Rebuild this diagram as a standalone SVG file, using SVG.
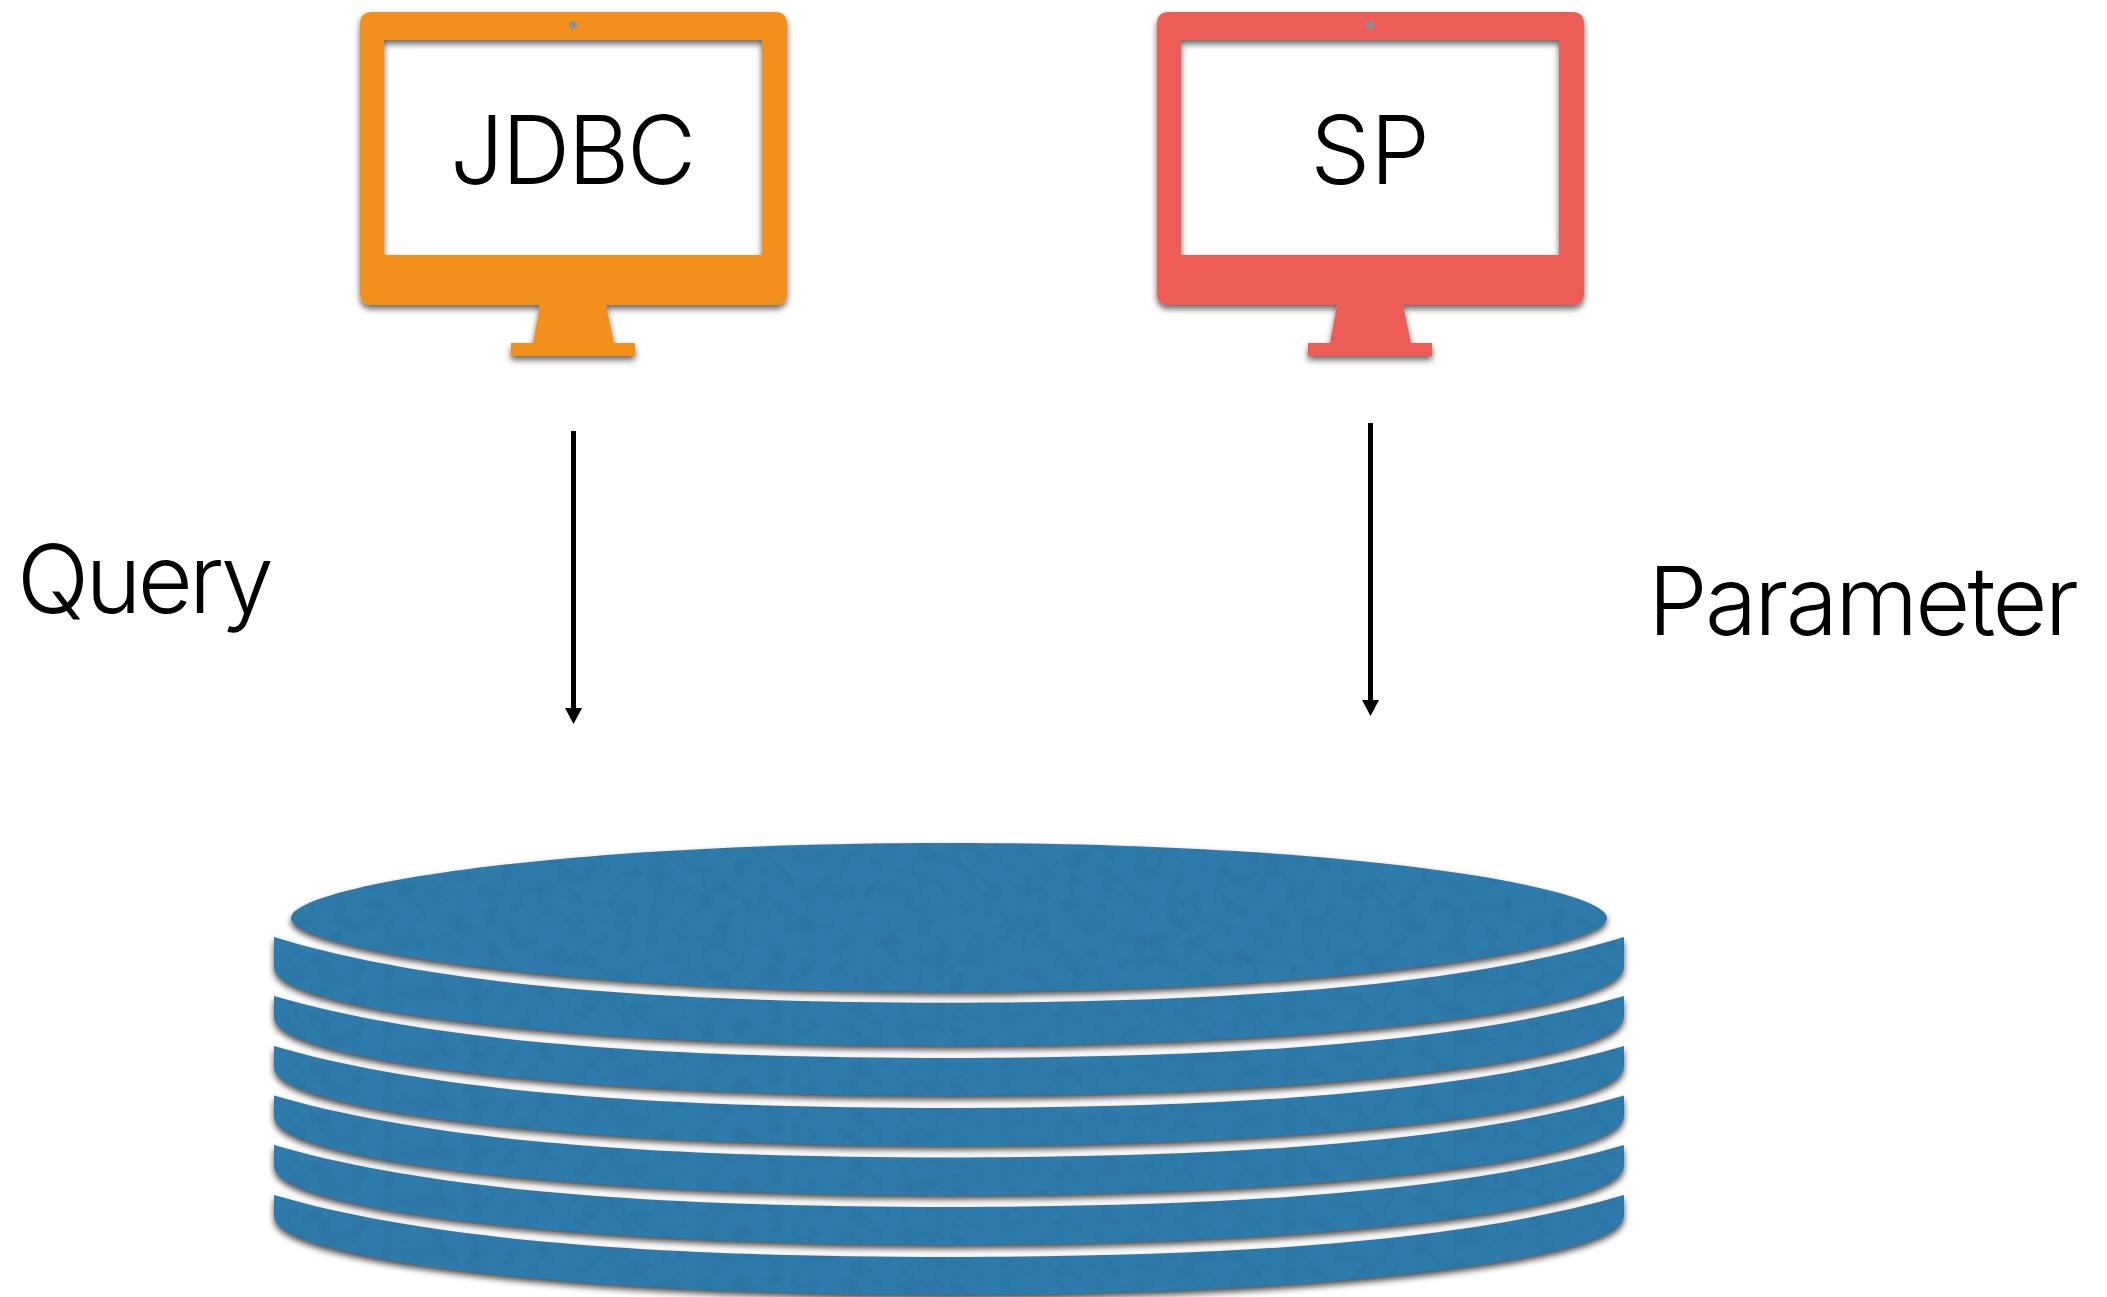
<svg xmlns="http://www.w3.org/2000/svg" width="2107" height="1297" viewBox="0 0 2107 1297">
<style>
text{font-family:"Inter","Roboto","Liberation Sans",sans-serif;font-weight:300;fill:#000}
.big{font-size:95px}
.stack{fill:#2e7cae;filter:url(#sh)}
.line{stroke:#000;stroke-width:5;fill:none;marker-end:url(#arrow)}
</style>
<defs>
<filter id="sh" x="-5%" y="-20%" width="110%" height="140%" color-interpolation-filters="sRGB">
<feGaussianBlur in="SourceAlpha" stdDeviation="3"/><feOffset dy="4"/>
<feColorMatrix type="matrix" values="0 0 0 0 0 0 0 0 0 0 0 0 0 0 0 0 0 0 .7 0" result="s"/>
<feTurbulence type="fractalNoise" baseFrequency=".06" numOctaves="4" seed="3"/>
<feColorMatrix type="matrix" values="0 0 0 0 0 0 0 0 0 0 0 0 0 0 0 .12 0 0 0 -.045"/>
<feComposite in2="SourceAlpha" operator="in" result="n"/>
<feMerge><feMergeNode in="s"/><feMergeNode in="SourceGraphic"/><feMergeNode in="n"/></feMerge>
</filter>
<filter id="sh2" x="-5%" y="-5%" width="110%" height="115%"><feDropShadow dx="0" dy="4" stdDeviation="3" flood-color="#000" flood-opacity=".6"/></filter>
<marker id="arrow" markerUnits="userSpaceOnUse" markerWidth="18" markerHeight="18" refX="0" refY="8.500" orient="auto"><path d="M0,0L16,8.500L0,17Z" fill="#000"/></marker>
<path id="monitor" fill-rule="evenodd" d="M372,12H775Q787,12 787,24V293Q787,305 775,305H606L614,343H635V356H511V343H533L540,305H372Q360,305 360,293V24Q360,12 372,12ZM384,40V255H762V40Z"/>
<path id="band" d="M274,0C420,45 640,65.700 949,65.700S1478,45 1624,0V30A675,79 0 0 1 274,30Z"/>
<path id="band2" d="M274,0C420,43 640,62 949,62S1478,43 1624,0V21A675,79 0 0 1 274,21Z"/>
<path id="top" d="M291,918C291,888 540,843 949,843S1607,888 1607,918S1338,992 949,992S291,948 291,918Z"/>
</defs>
<g id="jdbc">
<use href="#monitor" fill="#f3901a" filter="url(#sh2)"/>
<circle cx="573" cy="25" r="4" fill="#8a8f94"/>
<text class="big" x="572" y="184" text-anchor="middle" letter-spacing="-2.300">JDBC</text>
</g>
<g id="sp">
<use href="#monitor" x="797" fill="#ee5b57" filter="url(#sh2)"/>
<circle cx="1370" cy="25" r="4" fill="#8a8f94"/>
<text class="big" x="1370" y="184" text-anchor="middle">SP</text>
</g>
<g id="database">
<use class="stack" href="#band2" y="1195"/>
<use class="stack" href="#band2" y="1145"/>
<use class="stack" href="#band2" y="1095.500"/>
<use class="stack" href="#band2" y="1046"/>
<use class="stack" href="#band2" y="996"/>
<use class="stack" href="#band" y="937"/>
<use class="stack" href="#top"/>
</g>
<g id="connectors">
<line class="line" x1="573.500" y1="431" x2="573.500" y2="708"/>
<line class="line" x1="1370.500" y1="423" x2="1370.500" y2="700"/>
</g>
<text id="query" class="big" x="17" y="613" letter-spacing="-3.700">Query</text>
<text id="parameter" class="big" x="1648" y="635" letter-spacing="-2.750">Parameter</text>
</svg>
